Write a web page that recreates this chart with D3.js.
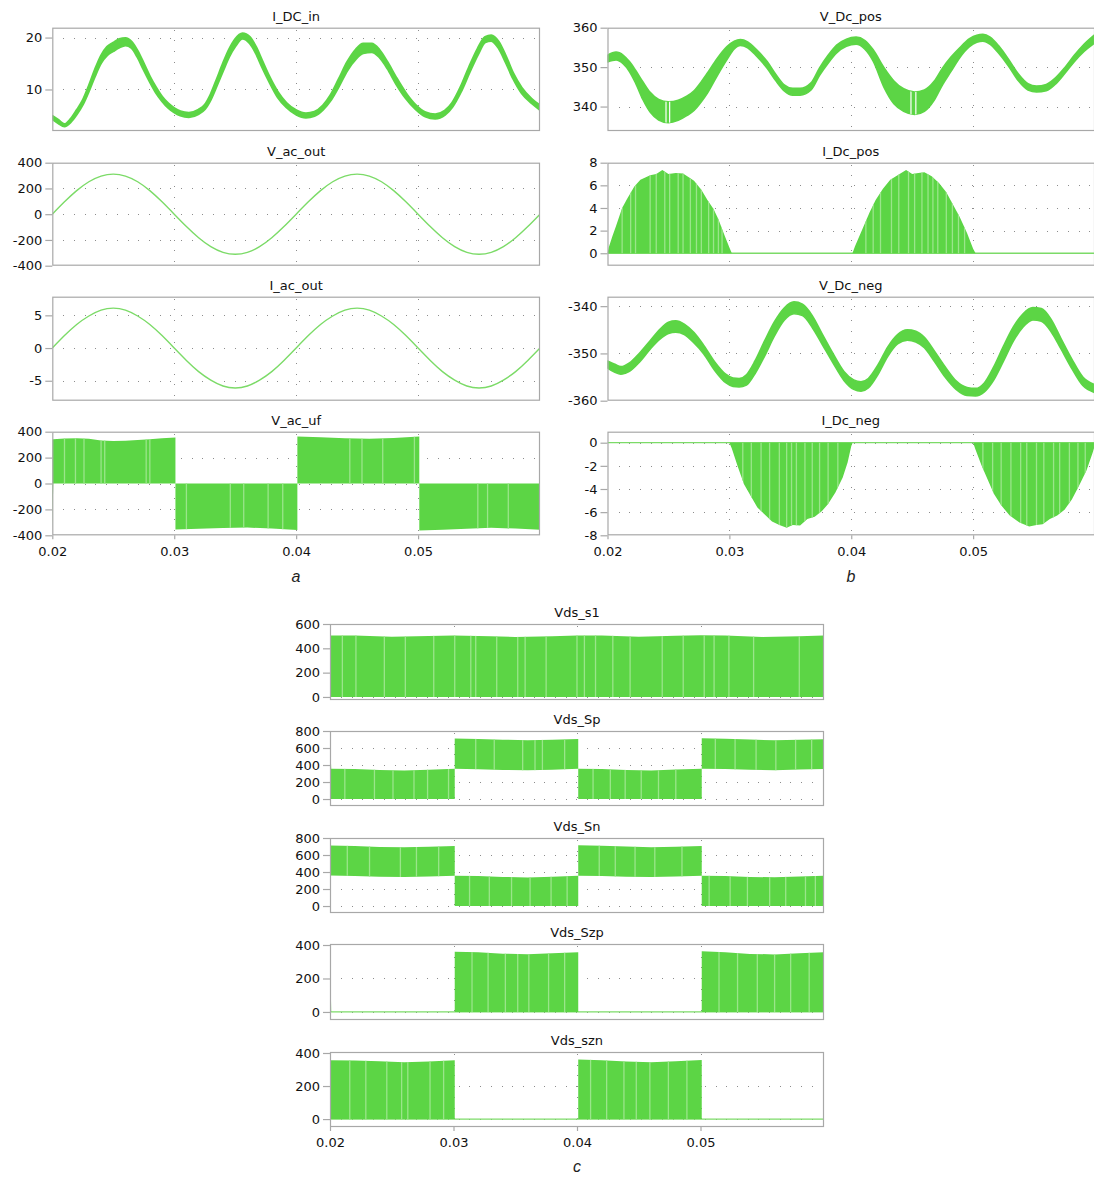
<!DOCTYPE html>
<html>
<head>
<meta charset="utf-8">
<script src="https://cdn.jsdelivr.net/npm/d3@7"></script>
<style>
  body { margin: 0; background: #ffffff; }
  svg { display: block; }
  .tick text { font-family: "DejaVu Sans", sans-serif; font-size: 13px; fill: #111111; }
  .ttl { font-family: "DejaVu Sans", sans-serif; font-size: 13px; fill: #111111; }
  .sub { font-family: "Liberation Sans", Arial, sans-serif; font-size: 16px; font-style: italic; fill: #1e1e1e; }
</style>
</head>
<body>
<script>
// ---------- time axis ----------
const timeDomain = [0.02, 0.06];
const timeTicks = [0.02, 0.03, 0.04, 0.05];
const timeGrid = [0.03, 0.04, 0.05];

// ---------- I_DC_in : input current, centre line and ripple half-width ----------
const dcInT = [0.0200,0.0205,0.0210,0.0215,0.0220,0.0225,0.0230,0.0235,0.0240,0.0245,0.0250,0.0255,0.0260,0.0265,0.0270,0.0275,0.0280,0.0285,0.0290,0.0295,0.0300,0.0305,
  0.0312,0.0320,0.0325,0.0330,0.0335,0.0340,0.0345,0.0350,
  0.0356,0.0362,0.0367,0.0372,0.0378,0.0385,0.0392,0.0400,
  0.0408,0.0415,0.0422,0.0428,0.0435,0.0442,0.0449,0.0455,
  0.0462,0.0468,0.0475,0.0482,0.0490,0.0498,0.0506,0.0514,
  0.0522,0.0528,0.0535,0.0542,0.0549,0.0555,0.0560,0.0566,
  0.0572,0.0578,0.0585,0.0593,0.0600];
const dcInMid = [4.6,3.8,3.1,4.0,5.6,7.5,10.2,13.2,15.8,17.4,18.2,18.9,19.2,18.6,16.8,14.4,12.0,9.9,8.2,6.9,6.0,5.4,
  5.1,5.7,6.6,8.6,11.4,14.3,17.0,19.0,
  20.3,19.5,17.6,15.0,12.0,9.0,7.0,5.6,
  5.0,5.3,6.5,8.3,11.3,14.5,16.8,17.9,
  18.0,17.0,14.6,11.7,8.8,6.6,5.2,4.8,
  5.5,7.0,10.0,13.8,17.3,19.6,19.9,18.6,
  15.8,12.6,9.8,7.8,6.5];
const dcInRip = [0.3,0.3,0.2,0.3,0.4,0.4,0.5,0.6,0.7,0.8,0.8,0.8,0.7,0.6,0.6,0.6,0.5,0.5,0.4,0.4,0.4,0.4,
  0.4,0.4,0.4,0.5,0.6,0.7,0.7,0.7,
  0.5,0.6,0.6,0.6,0.5,0.5,0.4,0.4,
  0.4,0.4,0.4,0.5,0.7,0.8,0.9,0.9,
  0.8,0.7,0.6,0.6,0.5,0.4,0.4,0.4,
  0.4,0.4,0.5,0.6,0.6,0.5,0.5,0.6,
  0.6,0.5,0.5,0.4,0.4];

// ---------- V_ac_out / I_ac_out : sampled every millisecond ----------
const acT = [0.020,0.021,0.022,0.023,0.024,0.025,0.026,0.027,0.028,0.029,0.030,0.031,0.032,0.033,0.034,0.035,0.036,0.037,0.038,0.039,0.040,
  0.041,0.042,0.043,0.044,0.045,0.046,0.047,0.048,0.049,0.050,0.051,0.052,0.053,0.054,0.055,0.056,0.057,0.058,0.059,0.060];
const vacOut = [0,96,183,252,296,311,296,252,183,96,0,-96,-183,-252,-296,-311,-296,-252,-183,-96,0,
  96,183,252,296,311,296,252,183,96,0,-96,-183,-252,-296,-311,-296,-252,-183,-96,0];
const iacOut = [0,1.9,3.6,4.9,5.8,6.1,5.8,4.9,3.6,1.9,0,-1.9,-3.6,-4.9,-5.8,-6.1,-5.8,-4.9,-3.6,-1.9,0,
  1.9,3.6,4.9,5.8,6.1,5.8,4.9,3.6,1.9,0,-1.9,-3.6,-4.9,-5.8,-6.1,-5.8,-4.9,-3.6,-1.9,0];

// ---------- V_ac_uf : unfiltered bridge output envelope ----------
const vacUfT = [0.0200,0.02008,0.0210,0.0220,0.0230,0.0240,0.0250,0.0260,0.0270,0.0280,0.0290,0.0301,0.0301,0.0320,0.0340,0.0360,0.0380,0.0401,0.0401,0.0420,0.0440,0.0460,0.0480,0.0501,0.0501,0.0520,0.0540,0.0560,0.0580,0.0600];
const vacUfHi = [340,342,348,350,345,333,328,330,335,342,350,356,0,0,0,0,0,0,362,358,350,346,352,362,0,0,0,0,0,0];
const vacUfLo = [-350,0,0,0,0,0,0,0,0,0,0,0,-355,-350,-343,-340,-348,-360,0,0,0,0,0,0,-362,-358,-350,-342,-348,-358];
const vacUfStripes = [0.0210,0.0219,0.0226,0.0240,0.0243,0.0277,0.0280,0.0310,0.0346,0.0357,0.0377,0.0389,0.0444,0.0454,0.0471,0.0497,0.0549,0.0557,0.0574];

// ---------- V_Dc_pos : upper DC-link capacitor voltage ----------
const vdcPosT = [0.0200,0.0207,0.0213,0.0218,0.0223,0.0229,0.0235,0.0242,0.0250,0.0258,
  0.0265,0.0271,0.0277,0.0282,0.0290,0.0298,0.0304,0.0309,0.0315,0.0322,
  0.0331,0.0338,0.0345,0.0352,0.0358,0.0367,0.0374,0.0381,0.0388,0.0396,
  0.0404,0.0411,0.0418,0.0427,0.0435,0.0443,0.0452,0.0460,0.0468,0.0475,
  0.0482,0.0489,0.0497,0.0503,0.0508,0.0514,0.0521,0.0529,0.0537,0.0545,
  0.0552,0.0560,0.0568,0.0575,0.0583,0.0591,0.0600];
const vdcPosHi = [353.0,353.8,353.0,351.4,349.2,346.3,343.6,341.8,341.2,341.6,
  342.6,344.0,346.3,348.5,352.2,355.2,356.6,357.0,356.4,354.5,
  351.4,348.2,345.5,344.6,344.6,346.0,349.8,353.0,355.6,357.1,
  357.6,356.8,354.4,349.8,346.5,344.5,343.7,344.2,346.4,349.8,
  352.6,354.9,357.2,358.1,358.3,357.6,355.4,352.0,348.3,345.8,
  345.2,345.6,347.4,349.8,353.0,355.8,358.3];
const vdcPosLo = [351.3,351.8,350.8,348.9,346.0,341.8,338.6,336.6,335.9,336.5,
  337.7,339.0,341.2,343.4,347.8,351.9,354.6,355.5,354.9,352.9,
  349.7,346.6,344.0,342.9,342.9,344.2,347.9,351.0,353.6,355.3,
  355.8,354.6,351.5,344.8,340.7,338.8,338.0,338.8,341.6,345.6,
  349.0,352.4,355.2,356.3,356.6,355.8,353.5,350.3,346.6,344.2,
  343.7,344.0,345.8,348.3,351.4,354.0,356.2];
const vdcPosGaps = [0.0248,0.0251,0.0449,0.0453];

// ---------- I_Dc_pos : upper capacitor current envelope ----------
const idcPosT = [0.0200,0.0201,0.0204,0.0207,0.0212,0.0216,0.0222,0.0227,0.0235,0.0240,0.0245,0.0250,0.0256,0.0262,0.0267,0.0271,0.0277,0.0282,0.0287,0.0291,0.0296,0.0300,0.0302,
  0.0401,0.0403,0.0409,0.0415,0.0420,0.0426,0.0432,0.0438,0.0445,0.0450,0.0455,0.0460,0.0466,0.0472,0.0478,0.0483,0.0489,0.0495,0.0500,0.0502,0.0600];
const idcPosHi = [0,0.5,1.5,2.4,4.0,4.8,5.9,6.5,6.9,7.0,7.35,7.0,7.1,7.05,6.7,6.4,5.6,4.7,3.9,3.0,1.6,0.5,0,
  0,0.6,2.1,3.6,4.7,5.7,6.5,6.9,7.35,7.0,7.1,7.15,6.8,6.2,5.4,4.4,3.2,1.8,0.4,0,0];
const idcPosStripes = [0.0212,0.0219,0.0223,0.0235,0.0240,0.0247,0.0251,0.0258,0.0262,0.0268,0.0273,0.0277,0.0283,0.0287,0.0291,0.0294,
  0.0412,0.0418,0.0424,0.0433,0.0439,0.0447,0.0452,0.0458,0.0463,0.0467,0.0471,0.0478,0.0483,0.0488,0.0493];

// ---------- V_Dc_neg : lower DC-link capacitor voltage ----------
const vdcNegT = [0.0200,0.0206,0.0211,0.0218,0.0226,0.0235,0.0243,0.0250,0.0256,0.0263,
  0.0271,0.0279,0.0288,0.0297,0.0303,0.0308,0.0314,0.0321,0.0329,0.0337,
  0.0345,0.0353,0.0360,0.0368,0.0376,0.0385,0.0394,0.0402,0.0408,0.0414,
  0.0422,0.0430,0.0438,0.0446,0.0453,0.0460,0.0468,0.0477,0.0486,0.0495,
  0.0502,0.0509,0.0517,0.0525,0.0533,0.0541,0.0549,0.0556,0.0564,0.0572,
  0.0581,0.0590,0.0600];
const vdcNegHi = [-351.6,-352.3,-352.8,-352.0,-350.0,-347.3,-344.9,-343.4,-343.1,-343.8,
  -345.6,-348.3,-351.8,-354.4,-355.2,-355.3,-354.5,-351.6,-347.3,-343.3,
  -340.4,-339.1,-339.6,-342.0,-345.8,-350.0,-353.8,-355.6,-356.0,-355.3,
  -352.4,-348.6,-346.0,-345.0,-345.3,-346.6,-349.4,-352.8,-355.8,-357.2,
  -357.4,-356.3,-352.8,-348.4,-344.4,-341.6,-340.3,-340.5,-342.8,-346.8,
  -351.2,-355.0,-356.6];
const vdcNegLo = [-353.1,-354.0,-354.4,-353.8,-351.9,-349.1,-347.0,-345.8,-345.5,-346.0,
  -347.8,-350.1,-353.6,-356.2,-357.0,-357.1,-356.7,-354.3,-350.5,-346.3,
  -343.0,-341.6,-342.0,-344.5,-348.0,-352.0,-355.7,-357.6,-358.0,-357.3,
  -354.4,-350.6,-348.0,-347.2,-347.6,-348.8,-351.6,-355.0,-357.6,-358.9,
  -359.0,-358.2,-355.6,-351.6,-347.4,-344.4,-342.9,-343.2,-345.4,-349.0,
  -353.2,-356.8,-358.3];

// ---------- I_Dc_neg : lower capacitor current envelope ----------
const idcNegT = [0.0200,0.0300,0.0302,0.0307,0.0312,0.0318,0.0323,0.0329,0.0335,0.0341,0.0347,0.0352,0.0358,0.0364,0.0370,0.0376,0.0381,0.0387,0.0393,0.0397,0.0400,0.0401,
  0.0500,0.0502,0.0507,0.0512,0.0517,0.0523,0.0530,0.0538,0.0546,0.0552,0.0557,0.0563,0.0569,0.0575,0.0581,0.0587,0.0593,0.0598,0.0600];
const idcNegLo = [0,0,-0.5,-2.1,-3.6,-4.7,-5.6,-6.2,-6.8,-7.1,-7.35,-7.1,-7.15,-6.6,-6.4,-5.9,-5.3,-4.3,-3.0,-1.7,-0.3,0,
  0,-0.6,-2.0,-3.2,-4.4,-5.4,-6.3,-6.9,-7.25,-7.1,-7.05,-6.6,-6.3,-5.8,-4.9,-3.7,-2.4,-0.9,-0.2];
const idcNegStripes = [0.0311,0.0318,0.0326,0.0333,0.0341,0.0347,0.0351,0.0355,0.0362,0.0368,0.0374,0.0381,0.0389,
  0.0508,0.0516,0.0523,0.0531,0.0539,0.0544,0.0552,0.0558,0.0566,0.0571,0.0579,0.0586,0.0592];

// ---------- switch drain-source voltages ----------
const s1T  = [0.020,0.022,0.025,0.028,0.030,0.033,0.035,0.038,0.040,0.042,0.045,0.048,0.050,0.052,0.055,0.058,0.060];
const s1Hi = [505,506,495,502,506,500,494,500,506,505,495,503,508,505,494,500,505];
const s1Stripes = [0.0210,0.0221,0.0244,0.0261,0.0284,0.0301,0.0314,0.0318,0.0335,0.0352,0.0358,0.0375,0.0400,0.0406,0.0415,0.0429,0.0443,0.0469,0.0486,0.0503,0.0511,0.0523,0.0543,0.0580];

const spT  = [0.0200,0.0201,0.0220,0.0240,0.0260,0.0280,0.0301,0.0301,0.0320,0.0340,0.0360,0.0380,0.0401,0.0401,0.0420,0.0440,0.0460,0.0480,0.0501,0.0501,0.0520,0.0540,0.0560,0.0580,0.0600];
const spHi = [700,355,352,342,336,345,356,712,706,698,690,698,706,356,352,342,336,346,357,714,708,700,690,698,704];
const spLo = [0,0,0,0,0,0,0,356,350,342,338,345,356,0,0,0,0,0,0,357,352,344,338,346,352];
const spStripes = [0.0212,0.0236,0.0251,0.0268,0.0279,0.0296,0.0318,0.0333,0.0356,0.0366,0.0372,0.0390,0.0413,0.0427,0.0439,0.0452,0.0466,0.0480,0.0512,0.0528,0.0545,0.0561,0.0577,0.0590];

const snT  = [0.0200,0.0220,0.0240,0.0260,0.0280,0.0301,0.0301,0.0320,0.0340,0.0360,0.0380,0.0401,0.0401,0.0420,0.0440,0.0460,0.0480,0.0501,0.0501,0.0520,0.0540,0.0560,0.0580,0.0600];
const snHi = [712,705,695,690,698,706,356,352,342,336,345,356,714,708,700,692,698,706,357,352,342,338,346,356];
const snLo = [360,352,345,340,346,356,0,0,0,0,0,0,357,352,344,340,346,356,0,0,0,0,0,0];
const snStripes = [0.0214,0.0232,0.0257,0.0270,0.0288,0.0313,0.0329,0.0347,0.0362,0.0379,0.0392,0.0418,0.0431,0.0447,0.0463,0.0485,0.0507,0.0524,0.0538,0.0556,0.0569,0.0585,0.0593];

const szpT  = [0.0200,0.0201,0.0301,0.0301,0.0320,0.0340,0.0360,0.0380,0.0401,0.0401,0.0501,0.0501,0.0520,0.0540,0.0560,0.0580,0.0600];
const szpHi = [355,0,0,360,356,348,345,350,356,0,0,362,356,347,344,350,356];
const szpStripes = [0.0315,0.0328,0.0342,0.0352,0.0361,0.0377,0.0390,0.0515,0.0530,0.0546,0.0560,0.0573,0.0588];

const sznT  = [0.0200,0.0220,0.0240,0.0260,0.0280,0.0301,0.0301,0.0401,0.0401,0.0420,0.0440,0.0460,0.0480,0.0501,0.0501,0.0600];
const sznHi = [356,355,350,344,348,356,0,0,360,356,348,344,350,357,0,0];
const sznStripes = [0.0216,0.0229,0.0246,0.0258,0.0263,0.0281,0.0292,0.0411,0.0424,0.0438,0.0448,0.0459,0.0474,0.0489];

// ---------- drawing ----------
const FILL = "#5cd545", LIGHT = "#9ae58a", LINE = "#7cdb68", GRID = "#8c8c8c", FRAME = "#a8a8a8";
const svg = d3.select("body").append("svg").attr("width", 1094).attr("height", 1177);
const defs = svg.append("defs");
let uid = 0;
const fmt = d => String(d);

function makePanel(p) {
  const x = d3.scaleLinear().domain(timeDomain).range([p.x0, p.x1]);
  const y = d3.scaleLinear().domain(p.yDomain).range([p.y1, p.y0]);
  const g = svg.append("g");
  const cid = "frame" + (uid++);
  defs.append("clipPath").attr("id", cid).append("rect")
    .attr("x", p.x0).attr("y", p.y0).attr("width", p.x1 - p.x0).attr("height", p.y1 - p.y0);

  // dotted grid
  const grid = g.append("g").attr("stroke", GRID).attr("stroke-width", 1)
    .attr("stroke-dasharray", "1,9.7").attr("shape-rendering", "crispEdges");
  p.yTicks.filter(v => Math.abs(y(v) - p.y0) > 2 && Math.abs(y(v) - p.y1) > 2).forEach(v => {
    const yy = Math.round(y(v)) + 0.5;
    grid.append("line").attr("x1", p.x0 + 11).attr("x2", p.x1).attr("y1", yy).attr("y2", yy);
  });
  timeGrid.forEach(t => {
    const xx = Math.round(x(t)) + 0.5;
    grid.append("line").attr("x1", xx).attr("x2", xx).attr("y1", p.y0 + 2).attr("y2", p.y1);
  });

  const plot = g.append("g").attr("clip-path", `url(#${cid})`);

  // frame
  g.append("rect").attr("x", p.x0 + 0.5).attr("y", p.y0 + 0.5)
    .attr("width", p.x1 - p.x0 - 1).attr("height", p.y1 - p.y0 - 1)
    .attr("fill", "none").attr("stroke", FRAME).attr("stroke-width", 1.2);

  // value axis
  const ya = g.append("g").attr("transform", `translate(${p.x0},0)`)
    .call(d3.axisLeft(y).tickValues(p.yTicks).tickSize(7).tickPadding(3).tickFormat(fmt));
  ya.select(".domain").remove();
  ya.selectAll(".tick line").attr("stroke", FRAME).attr("stroke-width", 1.2);

  // time axis on the bottom panel of each column
  if (p.timeAxis) {
    const xa = g.append("g").attr("transform", `translate(0,${p.y1})`)
      .call(d3.axisBottom(x).tickValues(timeTicks).tickSize(4).tickPadding(7).tickFormat(d => d.toFixed(2)));
    xa.select(".domain").remove();
    xa.selectAll(".tick line").attr("stroke", FRAME).attr("stroke-width", 1.2);
  }

  g.append("text").attr("class", "ttl")
    .attr("x", (p.x0 + Math.min(p.x1, 1094)) / 2).attr("y", p.y0 - 7)
    .attr("text-anchor", "middle").text(p.title);

  return { x, y, plot };
}

function envelope(P, t, hi, lo, opt = {}) {
  const pts = t.map((d, i) => ({
    t: d,
    hi: Array.isArray(hi) ? hi[i] : hi,
    lo: Array.isArray(lo) ? lo[i] : lo
  }));
  if (opt.edge) {
    P.plot.append("path")
      .attr("d", d3.line().x(d => P.x(d.t)).y(d => P.y(d[opt.edge]))(pts))
      .attr("fill", "none").attr("stroke", LINE).attr("stroke-width", 1.3);
  }
  const area = d3.area().x(d => P.x(d.t)).y0(d => P.y(d.lo)).y1(d => P.y(d.hi))
    .curve(opt.curve || d3.curveLinear);
  const dStr = area(pts);
  P.plot.append("path").attr("d", dStr).attr("fill", FILL)
    .attr("stroke", opt.sw ? FILL : "none").attr("stroke-width", opt.sw || 0)
    .attr("stroke-linejoin", "round");
  const marks = [];
  if (opt.stripes) marks.push({ list: opt.stripes, color: LIGHT, w: 1.3 });
  if (opt.gaps) marks.push({ list: opt.gaps, color: "#ffffff", w: 1.2 });
  if (marks.length) {
    const aid = "env" + (uid++);
    defs.append("clipPath").attr("id", aid).append("path").attr("d", dStr);
    const sg = P.plot.append("g").attr("clip-path", `url(#${aid})`);
    marks.forEach(m => m.list.forEach(s => {
      sg.append("line").attr("x1", P.x(s)).attr("x2", P.x(s))
        .attr("y1", P.y.range()[1]).attr("y2", P.y.range()[0])
        .attr("stroke", m.color).attr("stroke-width", m.w);
    }));
  }
}

function trace(P, t, v) {
  P.plot.append("path")
    .attr("d", d3.line().x((d, i) => P.x(t[i])).y(d => P.y(d)).curve(d3.curveNatural)(v))
    .attr("fill", "none").attr("stroke", LINE).attr("stroke-width", 1.4);
}

// column a
const L = { x0: 52.3, x1: 540 };
const a1 = makePanel({ ...L, y0: 27.7, y1: 131, yDomain: [2, 21.9], yTicks: [10, 20], title: "I_DC_in" });
envelope(a1, dcInT, dcInMid.map((m, i) => m + dcInRip[i]), dcInMid.map((m, i) => m - dcInRip[i]), { curve: d3.curveMonotoneX, sw: 2.4 });
const a2 = makePanel({ ...L, y0: 162.7, y1: 265.7, yDomain: [-400, 400], yTicks: [-400, -200, 0, 200, 400], title: "V_ac_out" });
trace(a2, acT, vacOut);
const a3 = makePanel({ ...L, y0: 296.7, y1: 400.7, yDomain: [-8.05, 7.85], yTicks: [-5, 0, 5], title: "I_ac_out" });
trace(a3, acT, iacOut);
const a4 = makePanel({ ...L, y0: 431.7, y1: 535.3, yDomain: [-400, 400], yTicks: [-400, -200, 0, 200, 400], title: "V_ac_uf", timeAxis: true });
envelope(a4, vacUfT, vacUfHi, vacUfLo, { stripes: vacUfStripes });

// column b
const R = { x0: 607.5, x1: 1095 };
const b1 = makePanel({ ...R, y0: 27.7, y1: 131, yDomain: [333.8, 360], yTicks: [340, 350, 360], title: "V_Dc_pos" });
envelope(b1, vdcPosT, vdcPosHi, vdcPosLo, { curve: d3.curveMonotoneX, sw: 1.6, gaps: vdcPosGaps });
const b2 = makePanel({ ...R, y0: 162.7, y1: 265.7, yDomain: [-1.1, 8], yTicks: [0, 2, 4, 6, 8], title: "I_Dc_pos" });
envelope(b2, idcPosT, idcPosHi, 0, { edge: "lo", stripes: idcPosStripes });
const b3 = makePanel({ ...R, y0: 296.7, y1: 400.7, yDomain: [-360, -338], yTicks: [-360, -350, -340], title: "V_Dc_neg" });
envelope(b3, vdcNegT, vdcNegHi, vdcNegLo, { curve: d3.curveMonotoneX, sw: 1.6 });
const b4 = makePanel({ ...R, y0: 431.7, y1: 535.3, yDomain: [-8, 0.95], yTicks: [-8, -6, -4, -2, 0], title: "I_Dc_neg", timeAxis: true });
envelope(b4, idcNegT, 0, idcNegLo, { edge: "hi", stripes: idcNegStripes });

// column c
const C = { x0: 330, x1: 824 };
const c1 = makePanel({ ...C, y0: 624, y1: 700, yDomain: [-25, 600], yTicks: [0, 200, 400, 600], title: "Vds_s1" });
envelope(c1, s1T, s1Hi, 0, { stripes: s1Stripes });
const c2 = makePanel({ ...C, y0: 731, y1: 806, yDomain: [-82, 800], yTicks: [0, 200, 400, 600, 800], title: "Vds_Sp" });
envelope(c2, spT, spHi, spLo, { stripes: spStripes });
const c3 = makePanel({ ...C, y0: 838, y1: 913, yDomain: [-82, 800], yTicks: [0, 200, 400, 600, 800], title: "Vds_Sn" });
envelope(c3, snT, snHi, snLo, { stripes: snStripes });
const c4 = makePanel({ ...C, y0: 944, y1: 1020, yDomain: [-48, 406], yTicks: [0, 200, 400], title: "Vds_Szp" });
envelope(c4, szpT, szpHi, 0, { edge: "lo", stripes: szpStripes });
const c5 = makePanel({ ...C, y0: 1052, y1: 1127, yDomain: [-48, 406], yTicks: [0, 200, 400], title: "Vds_szn", timeAxis: true });
envelope(c5, sznT, sznHi, 0, { edge: "lo", stripes: sznStripes });

// sub-figure letters
svg.append("text").attr("class", "sub").attr("x", 296).attr("y", 582).attr("text-anchor", "middle").text("a");
svg.append("text").attr("class", "sub").attr("x", 851).attr("y", 582).attr("text-anchor", "middle").text("b");
svg.append("text").attr("class", "sub").attr("x", 577).attr("y", 1172).attr("text-anchor", "middle").text("c");
</script>
</body>
</html>
